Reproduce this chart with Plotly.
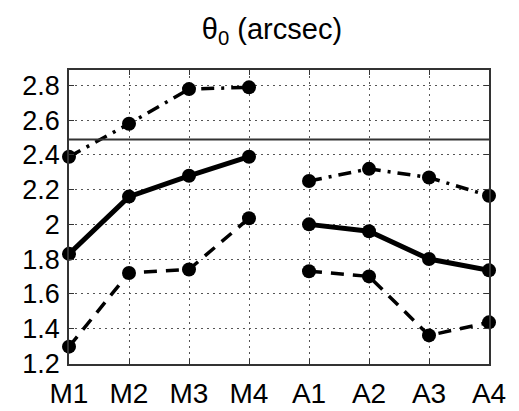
import plotly.graph_objects as go

# Categories along the x axis (two groups of four)
categories = ["M1", "M2", "M3", "M4", "A1", "A2", "A3", "A4"]
group_m = ["M1", "M2", "M3", "M4"]
group_a = ["A1", "A2", "A3", "A4"]

# theta_0 values (arcsec) per group
median_m = [1.83, 2.16, 2.28, 2.39]
median_a = [2.00, 1.96, 1.80, 1.735]
upper_m = [2.39, 2.58, 2.78, 2.79]
upper_a = [2.25, 2.32, 2.27, 2.165]
lower_m = [1.295, 1.72, 1.74, 2.035]
lower_a = [1.73, 1.70, 1.36, 1.435]

reference_level = 2.49
y_ticks = [1.2, 1.4, 1.6, 1.8, 2.0, 2.2, 2.4, 2.6, 2.8]
y_tick_text = ["1.2", "1.4", "1.6", "1.8", "2", "2.2", "2.4", "2.6", "2.8"]

idx = {c: i for i, c in enumerate(categories)}
FONT = "Liberation Sans, Arial, sans-serif"

fig = go.Figure()

styles = [
    (median_m, median_a, dict(color="black", width=5, dash="solid")),
    (upper_m, upper_a, dict(color="black", width=3.5, dash="13px,7px,3px,7px")),
    (lower_m, lower_a, dict(color="black", width=3.5, dash="13px,9px")),
]
for vals_m, vals_a, line in styles:
    for cats, vals in ((group_m, vals_m), (group_a, vals_a)):
        fig.add_trace(go.Scatter(
            x=[idx[c] for c in cats], y=vals,
            mode="lines+markers",
            line=line,
            marker=dict(size=14, color="black"),
            cliponaxis=False,
            showlegend=False,
        ))

fig.add_shape(type="line", xref="paper", x0=0, x1=1, yref="y",
              y0=reference_level, y1=reference_level,
              line=dict(color="#333", width=2))

fig.update_layout(
    width=519, height=411,
    margin=dict(l=69, r=30, t=70, b=47),
    plot_bgcolor="white", paper_bgcolor="white",
    font=dict(family=FONT, color="black", size=26),
    title=dict(text="θ<sub>0</sub> (arcsec)", x=0.524, xanchor="center",
               y=0.93, yanchor="middle",
               font=dict(family=FONT, size=29, color="black")),
)
fig.update_xaxes(
    range=[0, 7], tickmode="array", automargin=False,
    tickvals=list(range(len(categories))), ticktext=categories,
    showgrid=True, gridcolor="#555", gridwidth=1, griddash="2px,4px",
    showline=True, linecolor="#333", linewidth=1.5, mirror="ticks",
    ticks="inside", ticklen=5, tickcolor="#333",
    zeroline=False, tickfont=dict(size=28), ticklabelstandoff=4,
)
fig.update_yaxes(
    range=[1.195, 2.89], tickmode="array", automargin=False,
    tickvals=y_ticks, ticktext=y_tick_text,
    showgrid=True, gridcolor="#555", gridwidth=1, griddash="2px,4px",
    showline=True, linecolor="#333", linewidth=1.5, mirror="ticks",
    ticks="inside", ticklen=5, tickcolor="#333",
    zeroline=False, tickfont=dict(size=27), ticklabelstandoff=2,
)

fig.write_html("out.html")
